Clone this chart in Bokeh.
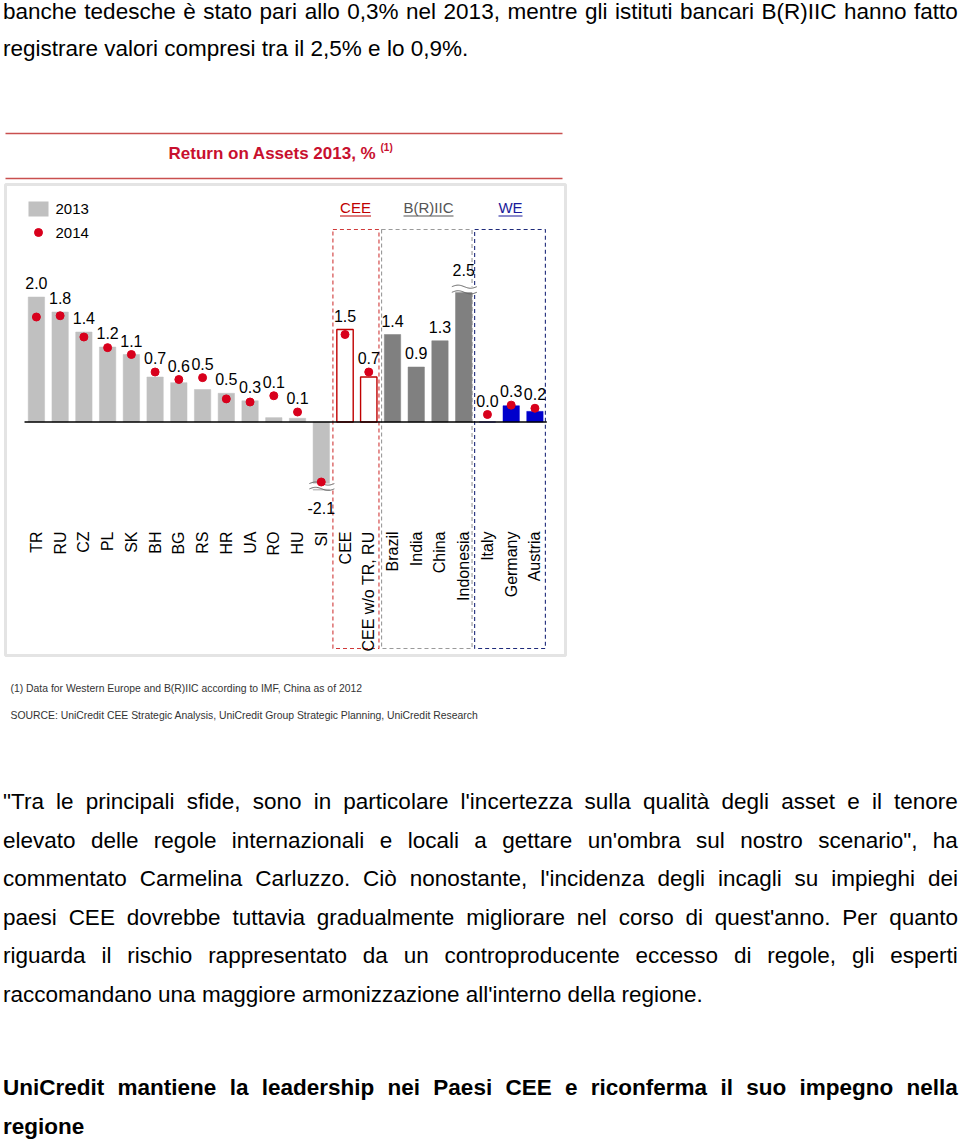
import html
import numpy as np
from bokeh.plotting import figure
from bokeh.models import Div, ColumnDataSource, CDSView, IndexFilter
from bokeh.layouts import column
from bokeh.core.properties import value
from bokeh.embed import file_html
from bokeh.resources import INLINE

# ---------------- data ----------------
categories = ["TR", "RU", "CZ", "PL", "SK", "BH", "BG", "RS", "HR", "UA", "RO", "HU", "SI",
              "CEE", "CEE w/o TR, RU", "Brazil", "India", "China", "Indonesia",
              "Italy", "Germany", "Austria"]
roa_2013 = [2.0, 1.76, 1.44, 1.2, 1.08, 0.72, 0.63, 0.52, 0.46, 0.34, 0.07, 0.06, -2.1,
            1.48, 0.72, 1.40, 0.88, 1.30, 2.5, 0.0, 0.26, 0.17]
roa_2014 = [1.68, 1.70, 1.36, 1.19, 1.08, 0.80, 0.68, 0.71, 0.37, 0.32, 0.42, 0.16, -0.96,
            1.40, 0.80, np.nan, np.nan, np.nan, np.nan, 0.12, 0.27, 0.22]
groups = ["CEE country"] * 13 + ["CEE total"] * 2 + ["BRIIC"] * 4 + ["WE"] * 3
group_labels = ["CEE", "B(R)IIC", "WE"]
legend_labels = ["2013", "2014"]
chart_title = "Return on Assets 2013, %"
title_note = "(1)"
footnote = "(1) Data for Western Europe and B(R)IIC according to IMF, China as of 2012"
source_note = "SOURCE: UniCredit CEE Strategic Analysis, UniCredit Group Strategic Planning, UniCredit Research"

top_lines = [
    ("banche tedesche è stato pari allo 0,3% nel 2013, mentre gli istituti bancari B(R)IIC hanno fatto", True),
    ("registrare valori compresi tra il 2,5% e lo 0,9%.", False),
]
para_lines = [
    ("\"Tra le principali sfide, sono in particolare l'incertezza sulla qualità degli asset e il tenore", True),
    ("elevato delle regole internazionali e locali a gettare un'ombra sul nostro scenario\", ha", True),
    ("commentato Carmelina Carluzzo. Ciò nonostante, l'incidenza degli incagli su impieghi dei", True),
    ("paesi CEE dovrebbe tuttavia gradualmente migliorare nel corso di quest'anno. Per quanto", True),
    ("riguarda il rischio rappresentato da un controproducente eccesso di regole, gli esperti", True),
    ("raccomandano una maggiore armonizzazione all'interno della regione.", False),
]
bold_lines = [
    ("UniCredit mantiene la leadership nei Paesi CEE e riconferma il suo impegno nella", True),
    ("regione", False),
]

# ---------------- styles / geometry ----------------
FIG_TOP, FIG_BOTTOM = 62, 783
STEP, X_FIRST = 23.74, 35.9
ZERO_Y, UNIT = 421.5, 62.5
CAP_HI, CAP_LO = 2.08, -1.09


def xd(px):
    return (px - X_FIRST) / STEP


def yd(py):
    return (ZERO_Y - py) / UNIT


FONT = value("Liberation Sans")
DOT = "#d8001c"
fill_map = {"CEE country": "#c0c0c0", "CEE total": "#ffffff", "BRIIC": "#808080", "WE": "#0000cc"}
line_map = {"CEE country": "#c0c0c0", "CEE total": "#c00000", "BRIIC": "#808080", "WE": "#0000cc"}

n = len(categories)
idx = np.arange(n)
v13 = np.array(roa_2013, dtype=float)
v14 = np.array(roa_2014, dtype=float)
shown = np.clip(v13, CAP_LO, CAP_HI)
capped = shown != v13

src = ColumnDataSource(dict(
    x=idx, top=shown, v14=v14, cat=categories,
    fill=[fill_map[g] for g in groups], line=[line_map[g] for g in groups],
    lw=[1.4 if g == "CEE total" else 0.5 for g in groups],
))

p = figure(width=960, height=FIG_BOTTOM - FIG_TOP,
           x_range=(xd(0), xd(960)), y_range=(yd(FIG_BOTTOM), yd(FIG_TOP)),
           output_backend="svg", toolbar_location=None, title=None,
           x_axis_type=None, y_axis_type=None, min_border=0,
           outline_line_color=None, background_fill_color="white",
           border_fill_color="white")
p.xgrid.grid_line_color = None
p.ygrid.grid_line_color = None

# title lines and title
for yy in (133, 178):
    p.segment(x0=xd(5), x1=xd(562), y0=yd(yy), y1=yd(yy), line_color="#c9504f", line_width=1.6)
p.text(x=xd(168), y=yd(153), text=[chart_title], text_font=FONT, text_font_style="bold",
       text_font_size="17px", text_color="#c8102e", text_align="left", text_baseline="middle")
p.text(x=xd(380), y=yd(147), text=[title_note], text_font=FONT, text_font_style="bold",
       text_font_size="10px", text_color="#c8102e", text_align="left", text_baseline="middle")

# outer light box
p.quad(left=xd(5), right=xd(565), top=yd(184), bottom=yd(655), fill_color=None,
       line_color="#e4e4e4", line_width=3)

# legend
p.quad(left=xd(28), right=xd(48), top=yd(201), bottom=yd(216), fill_color="#c0c0c0", line_color=None)
p.scatter(x=[xd(38)], y=[yd(232)], size=8, fill_color=DOT, line_color=DOT)
p.text(x=xd(55), y=[yd(208), yd(232)], text=legend_labels, text_font=FONT, text_font_size="15px",
       text_color="black", text_align="left", text_baseline="middle")

# group boxes and headers
box_edges = [(12.49, 14.43), (14.54, 18.35), (18.46, 21.44)]
box_colors = ["#d03a3a", "#9a9a9a", "#1e2a7a"]
head_colors = ["#c00000", "#555555", "#1a1a9a"]
head_x = [355, 428, 510]
head_w = [31, 50, 24]
for (l, r), bc, hc, hx, hw, lab in zip(box_edges, box_colors, head_colors, head_x, head_w, group_labels):
    p.quad(left=l, right=r, top=yd(229), bottom=yd(648), fill_color=None, line_color=bc,
           line_width=1.1, line_dash="4 3")
    p.text(x=xd(hx), y=yd(207), text=[lab], text_font=FONT, text_font_size="15px",
           text_color=hc, text_align="center", text_baseline="middle")
    p.segment(x0=xd(hx - hw / 2), x1=xd(hx + hw / 2), y0=yd(215.5), y1=yd(215.5),
              line_color=hc, line_width=1.2)

# bars
p.vbar(x="x", top="top", bottom=0, width=0.69, fill_color="fill", line_color="line",
       line_width="lw", source=src)

# axis breaks on capped bars
t = np.linspace(0, 1, 30)
for i in np.where(capped)[0]:
    c = shown[i]
    xs = i - 0.5 + 1.05 * t
    if v13[i] > 0:
        lo, hi = c - 0.005, c + 0.085
    else:
        lo, hi = c + 0.02, c + 0.105
    p.quad(left=i - 0.5, right=i + 0.55, bottom=lo, top=hi, fill_color="white", line_color=None)
    for base in (lo, hi):
        p.line(x=xs, y=base + 0.025 * np.sin(2 * np.pi * t), line_color="#666666", line_width=1)

# zero line
p.segment(x0=-0.5, x1=n - 0.5, y0=0, y1=0, line_color="black", line_width=1.5)

# 2014 dots
p.scatter(x="x", y="v14", size=8, fill_color=DOT, line_color=DOT, source=src)

# value labels
lab_y, lab_off, lab_base = [], [], []
for i in range(n):
    if v13[i] >= 0:
        a = shown[i] if np.isnan(v14[i]) else max(shown[i], v14[i])
        lab_y.append(a)
        lab_off.append(-16 if capped[i] else -8)
        lab_base.append("bottom")
    else:
        lab_y.append(shown[i])
        lab_off.append(12)
        lab_base.append("top")
lab_src = ColumnDataSource(dict(x=idx, y=lab_y, off=lab_off,
                                txt=[f"{v:.1f}" for v in v13]))
pos = [i for i in range(n) if lab_base[i] == "bottom"]
neg = [i for i in range(n) if lab_base[i] == "top"]
p.text(x="x", y="y", text="txt", y_offset="off", source=lab_src, view=CDSView(filter=IndexFilter(pos)),
       text_font=FONT, text_font_size="16px", text_color="black", text_align="center",
       text_baseline="bottom")
p.text(x="x", y="y", text="txt", y_offset="off", source=lab_src, view=CDSView(filter=IndexFilter(neg)),
       text_font=FONT, text_font_size="16px", text_color="black", text_align="center",
       text_baseline="top")

# category labels (vertical)
p.text(x=idx, y=yd(531), text=categories, angle=np.pi / 2, text_font=FONT,
       text_font_size="16px", text_color="black", text_align="right", text_baseline="middle")

# footnotes
p.text(x=xd(10), y=[yd(688), yd(715)], text=[footnote, source_note], text_font=FONT,
       text_font_size="10.4px", text_color="#333333", text_align="left", text_baseline="middle")

# ---------------- surrounding article text ----------------
BODY_FONT = "Arial, 'Liberation Sans', sans-serif"
LH = 38.6


def line_div(text, justify, bold=False, height=LH):
    weight = "font-weight:bold;" if bold else ""
    if justify:
        spans = "".join(f"<span>{html.escape(w, quote=False)}</span>" for w in text.split(" "))
        return (f'<div style="display:flex;justify-content:space-between;height:{height}px;'
                f'line-height:{LH}px;white-space:nowrap;{weight}">{spans}</div>')
    return (f'<div style="height:{height}px;line-height:{LH}px;white-space:nowrap;{weight}">'
            f'{html.escape(text, quote=False)}</div>')


def wrap(inner, mt):
    return (f'<div style="font-family:{BODY_FONT};font-size:22.5px;color:#000;width:955px;'
            f'margin:{mt}px 0 0 3px;padding:0">{inner}</div>')


TOP_SHIFT = 6.6      # first line box starts slightly above the page
SECOND_TOP = 29.6    # top of the second line box
top_inner = (line_div(top_lines[0][0], top_lines[0][1], height=SECOND_TOP + TOP_SHIFT)
             + "".join(line_div(t, j) for t, j in top_lines[1:]))
top_div = Div(text=wrap(top_inner, -TOP_SHIFT), width=960, height=FIG_TOP, margin=0)

bottom_html = (wrap("".join(line_div(t, j) for t, j in para_lines), 0)
               + wrap("".join(line_div(t, j, bold=True) for t, j in bold_lines), 54.4))
bottom_div = Div(text=bottom_html, width=960, height=1139 - FIG_BOTTOM, margin=0)

layout = column(top_div, p, bottom_div, spacing=0, margin=0)
open("out.html", "w").write(file_html(layout, INLINE))
